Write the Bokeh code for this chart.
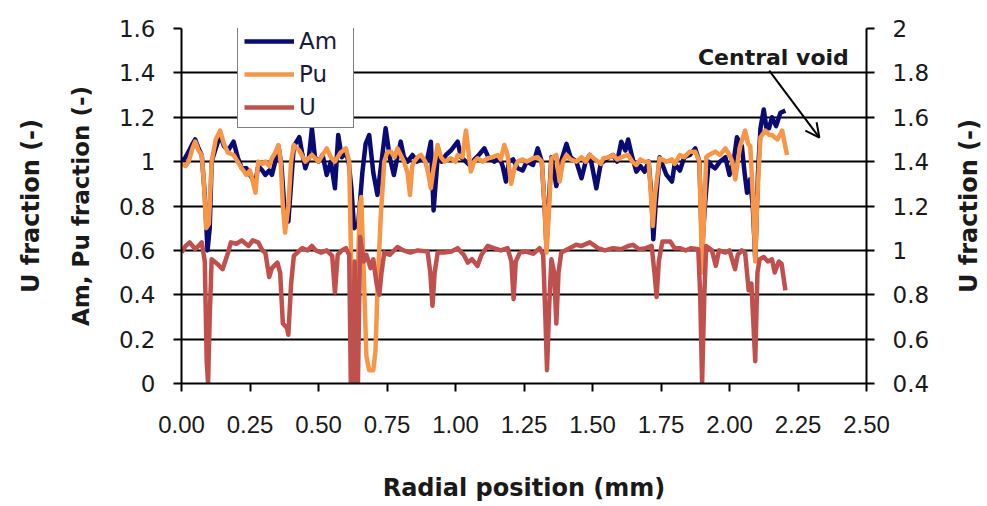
from bokeh.plotting import figure
from bokeh.layouts import row
from bokeh.models import (Range1d, LinearAxis, FixedTicker, NumeralTickFormatter,
                          Legend, LegendItem, Label, Arrow, OpenHead)
from bokeh.embed import file_html
from bokeh.resources import INLINE

# ---------------- data ----------------
am_x = [0.00, 0.015, 0.026, 0.04, 0.05, 0.062, 0.074, 0.085, 0.095, 0.103, 0.11, 0.125, 0.141, 0.155,
        0.17, 0.19, 0.205, 0.22, 0.237, 0.255, 0.27, 0.28, 0.295, 0.306, 0.32, 0.33, 0.342, 0.354,
        0.365, 0.375, 0.39, 0.40, 0.41, 0.43, 0.44, 0.452, 0.465, 0.476, 0.487, 0.50, 0.515, 0.53,
        0.545, 0.56, 0.572, 0.585, 0.60, 0.61, 0.62, 0.63, 0.645, 0.66, 0.672, 0.685, 0.70, 0.715,
        0.73, 0.745, 0.76, 0.775, 0.788, 0.80, 0.812, 0.825, 0.843, 0.86, 0.875, 0.895, 0.91, 0.92,
        0.935, 0.95, 0.965, 0.983, 1.008, 1.02, 1.038, 1.055, 1.069, 1.085, 1.105, 1.12, 1.142, 1.16,
        1.172, 1.184, 1.195, 1.21, 1.227, 1.245, 1.26, 1.283, 1.30, 1.315, 1.325, 1.332, 1.34, 1.35,
        1.368, 1.385, 1.405, 1.42, 1.441, 1.46, 1.475, 1.49, 1.50, 1.514, 1.53, 1.54, 1.56, 1.575,
        1.59, 1.605, 1.62, 1.63, 1.645, 1.66, 1.675, 1.69, 1.705, 1.715, 1.722, 1.73, 1.745, 1.77,
        1.79, 1.80, 1.819, 1.835, 1.855, 1.875, 1.89, 1.90, 1.91, 1.924, 1.936, 1.948, 1.965, 1.985,
        2.00, 2.015, 2.027, 2.045, 2.055, 2.064, 2.075, 2.085, 2.094, 2.104, 2.113, 2.125, 2.135,
        2.144, 2.155, 2.17, 2.186, 2.204]
am_y = [1.00, 1.02, 1.045, 1.08, 1.10, 1.06, 1.03, 0.85, 0.60, 0.70, 1.00, 1.06, 1.12, 1.07,
        1.05, 1.09, 1.02, 0.97, 0.97, 0.93, 0.91, 0.98, 0.96, 0.94, 0.96, 0.94, 1.00, 1.07,
        0.98, 0.80, 0.73, 0.90, 1.07, 1.11, 1.04, 0.97, 1.02, 1.15, 1.02, 1.00, 1.03, 0.94,
        1.00, 0.88, 1.12, 1.02, 1.04, 1.00, 0.88, 0.70, 0.72, 0.95, 1.08, 1.12, 0.95, 0.85,
        1.00, 1.15, 1.02, 0.94, 1.02, 1.09, 1.02, 1.00, 1.03, 1.00, 1.01, 1.00, 1.09, 0.78,
        1.02, 1.00, 1.03, 1.05, 1.09, 1.02, 1.00, 0.98, 1.01, 1.03, 1.06, 1.02, 1.00, 1.02,
        0.98, 0.91, 1.00, 1.01, 0.97, 0.96, 1.00, 0.985, 1.06, 1.00, 0.80, 0.62, 0.80, 1.02,
        0.89, 1.00, 1.08, 1.02, 1.00, 0.925, 1.00, 1.03, 0.97, 0.88, 0.99, 1.00, 1.02, 1.03,
        1.00, 1.09, 1.05, 1.10, 1.02, 0.955, 0.98, 0.955, 1.00, 0.85, 0.65, 0.80, 1.02, 0.94,
        0.91, 0.99, 0.96, 1.02, 1.03, 1.06, 1.00, 0.60, 0.80, 1.00, 0.98, 0.97, 1.00, 1.02,
        0.94, 1.00, 1.11, 1.07, 0.95, 0.86, 0.92, 0.80, 0.56, 0.95, 1.15, 1.235, 1.15,
        1.15, 1.20, 1.16, 1.22, 1.23]

pu_x = [0.00, 0.015, 0.026, 0.04, 0.05, 0.062, 0.074, 0.082, 0.09, 0.10, 0.11, 0.125, 0.141, 0.155,
        0.17, 0.19, 0.205, 0.22, 0.237, 0.25, 0.27, 0.28, 0.295, 0.306, 0.32, 0.33, 0.342, 0.354,
        0.362, 0.37, 0.378, 0.39, 0.40, 0.41, 0.43, 0.452, 0.476, 0.50, 0.53, 0.545, 0.56, 0.58,
        0.60, 0.612, 0.62, 0.628, 0.636, 0.642, 0.65, 0.656, 0.665, 0.675, 0.685, 0.70, 0.708,
        0.716, 0.727, 0.74, 0.752, 0.764, 0.778, 0.788, 0.80, 0.812, 0.825, 0.834, 0.842, 0.849,
        0.862, 0.874, 0.89, 0.90, 0.91, 0.92, 0.935, 0.947, 0.96, 0.983, 1.00, 1.008, 1.025, 1.038,
        1.047, 1.056, 1.068, 1.08, 1.10, 1.117, 1.135, 1.154, 1.165, 1.178, 1.19, 1.203, 1.215,
        1.227, 1.245, 1.26, 1.283, 1.30, 1.315, 1.325, 1.332, 1.34, 1.35, 1.368, 1.38, 1.392,
        1.405, 1.42, 1.441, 1.46, 1.475, 1.49, 1.51, 1.53, 1.54, 1.56, 1.575, 1.59, 1.605, 1.63,
        1.645, 1.66, 1.675, 1.69, 1.705, 1.713, 1.72, 1.728, 1.745, 1.77, 1.79, 1.80, 1.819, 1.835,
        1.855, 1.875, 1.89, 1.895, 1.90, 1.907, 1.915, 1.924, 1.948, 1.965, 1.985, 2.00, 2.01,
        2.021, 2.03, 2.04, 2.057, 2.068, 2.076, 2.085, 2.094, 2.102, 2.113, 2.131, 2.145, 2.155,
        2.175, 2.192, 2.21]
pu_y = [0.99, 0.98, 1.00, 1.06, 1.09, 1.05, 1.03, 0.90, 0.70, 0.72, 1.00, 1.10, 1.14, 1.08,
        1.04, 1.03, 1.00, 0.97, 0.94, 0.96, 0.86, 1.00, 0.99, 1.00, 0.98, 1.015, 1.04, 1.075,
        1.00, 0.80, 0.68, 0.80, 1.00, 1.075, 1.05, 1.00, 1.03, 1.00, 1.06, 1.02, 1.00, 1.04,
        1.06, 1.00, 0.50, 0.05, 0.02, 0.40, 0.80, 0.84, 0.50, 0.12, 0.06, 0.06, 0.15,
        0.45, 0.75, 1.00, 1.045, 1.045, 1.02, 1.06, 1.03, 1.00, 0.95, 0.85, 0.98, 1.00,
        1.02, 1.03, 1.00, 0.95, 0.88, 0.97, 1.075, 1.02, 1.00, 1.015, 1.00, 1.03, 1.02, 1.14,
        1.05, 0.955, 1.00, 1.015, 1.00, 1.015, 1.02, 1.03, 1.01, 1.075, 1.03, 0.90, 0.97,
        1.00, 1.01, 1.00, 1.015, 1.02, 1.00, 0.80, 0.59, 0.75, 1.015, 1.03, 0.91, 1.00,
        1.03, 1.01, 1.00, 1.02, 1.00, 1.03, 1.01, 0.99, 1.015, 1.02, 1.03, 1.01, 1.02, 1.03,
        1.00, 0.985, 1.01, 1.00, 1.00, 0.85, 0.71, 0.85, 1.015, 1.00, 1.01, 0.99, 1.03, 1.02,
        1.045, 1.045, 1.00, 0.75, 0.50, 0.75, 1.02, 1.03, 1.045, 1.03, 1.06, 1.03, 1.00,
        0.92, 1.00, 1.075, 1.14, 1.08, 1.07, 0.85, 0.55, 0.85, 1.11, 1.14, 1.12, 1.12,
        1.10, 1.14, 1.03]

u_x = [0.00, 0.015, 0.03, 0.05, 0.062, 0.074, 0.085, 0.092, 0.097, 0.103, 0.11, 0.13, 0.15, 0.17,
       0.18, 0.20, 0.22, 0.245, 0.26, 0.28, 0.295, 0.306, 0.32, 0.33, 0.35, 0.36, 0.37, 0.385,
       0.39, 0.40, 0.41, 0.44, 0.46, 0.476, 0.49, 0.51, 0.53, 0.55, 0.56, 0.57, 0.585, 0.60,
       0.612, 0.618, 0.624, 0.632, 0.638, 0.644, 0.652, 0.665, 0.675, 0.69, 0.70, 0.712, 0.722,
       0.73, 0.74, 0.76, 0.788, 0.81, 0.835, 0.862, 0.898, 0.908, 0.916, 0.924, 0.935, 0.96,
       0.985, 1.008, 1.03, 1.045, 1.06, 1.08, 1.095, 1.117, 1.14, 1.165, 1.19, 1.204, 1.212,
       1.22, 1.235, 1.257, 1.283, 1.307, 1.32, 1.328, 1.334, 1.342, 1.35, 1.36, 1.368, 1.376,
       1.386, 1.416, 1.44, 1.46, 1.49, 1.52, 1.545, 1.575, 1.605, 1.63, 1.648, 1.67, 1.695,
       1.716, 1.726, 1.734, 1.742, 1.755, 1.784, 1.80, 1.819, 1.84, 1.86, 1.886, 1.893, 1.90,
       1.908, 1.915, 1.936, 1.95, 1.962, 1.985, 2.00, 2.02, 2.03, 2.045, 2.057, 2.07, 2.08,
       2.094, 2.102, 2.11, 2.125, 2.14, 2.155, 2.165, 2.18, 2.19, 2.204]
u_y = [0.99, 1.02, 1.036, 1.006, 1.02, 1.036, 0.95, 0.50, 0.40, 0.70, 0.96, 0.94, 0.915, 0.99,
       1.036, 1.03, 1.045, 1.02, 1.045, 1.036, 1.00, 0.99, 0.88, 0.92, 0.945, 0.90, 0.67, 0.65,
       0.62, 0.85, 0.975, 1.01, 1.00, 1.02, 1.00, 0.99, 1.00, 0.975, 0.81, 0.98, 1.00, 1.01,
       0.98, 0.40, 0.40, 0.95, 0.40, 0.40, 1.06, 0.95, 0.98, 0.92, 0.96, 0.85, 0.80,
       0.90, 0.99, 0.98, 1.015, 1.00, 0.99, 1.00, 0.995, 0.90, 0.75, 0.90, 0.99, 0.99,
       0.995, 1.01, 0.98, 0.945, 0.96, 0.93, 0.98, 1.02, 1.01, 1.00, 1.01, 0.95, 0.78,
       0.95, 0.99, 0.995, 0.985, 1.01, 0.98, 0.70, 0.46, 0.75, 0.96, 0.90, 0.67, 0.90,
       0.99, 1.01, 1.025, 1.02, 1.036, 1.01, 1.00, 1.01, 1.005, 1.02, 1.025, 1.005, 1.01,
       1.02, 0.90, 0.79, 0.95, 1.04, 1.04, 1.01, 1.01, 1.00, 1.01, 1.005, 0.80, 0.40,
       0.80, 1.02, 1.00, 0.93, 1.00, 0.99, 1.00, 0.915, 0.98, 1.00, 0.99, 0.82, 0.85,
       0.50, 0.90, 0.96, 0.97, 0.95, 0.96, 0.90, 0.95, 0.94, 0.82]

x_ticks = [0.0, 0.25, 0.5, 0.75, 1.0, 1.25, 1.5, 1.75, 2.0, 2.25, 2.5]
left_ticks = [0.0, 0.2, 0.4, 0.6, 0.8, 1.0, 1.2, 1.4, 1.6]
right_ticks = [0.4, 0.6, 0.8, 1.0, 1.2, 1.4, 1.6, 1.8, 2.0]

TICK_FONT = "DejaVu Sans"
TITLE_FONT = "DejaVu Sans"

# ---------------- main figure ----------------
p = figure(width=950, height=506, output_backend="svg", toolbar_location=None,
           x_range=Range1d(0, 2.5), y_range=Range1d(0, 1.6),
           min_border_left=181, min_border_right=84, min_border_top=28, min_border_bottom=123)
p.extra_y_ranges = {"u": Range1d(0.4, 2.0)}
p.outline_line_color = None
p.background_fill_color = "white"

# x axis
xa = p.xaxis[0]
xa.ticker = FixedTicker(ticks=x_ticks)
xa.formatter = NumeralTickFormatter(format="0.00")
xa.axis_label = "Radial position (mm)"
xa.major_label_text_font = "Liberation Sans"
xa.major_label_text_font_size = "24px"
xa.major_label_standoff = 24
xa.axis_label_standoff = 38

# left axis
ya = p.yaxis[0]
ya.ticker = FixedTicker(ticks=left_ticks)
ya.formatter = NumeralTickFormatter(format="0.[0]")
ya.axis_label = "Am, Pu fraction (-)"
ya.major_label_text_font = TICK_FONT
ya.major_label_text_font_size = "23px"
ya.major_label_standoff = 18
ya.axis_label_standoff = 22

# right axis (its title is drawn in the slim panel at the right so it reads bottom-to-top)
ra = LinearAxis(y_range_name="u", ticker=FixedTicker(ticks=right_ticks),
                formatter=NumeralTickFormatter(format="0.[0]"))
ra.major_label_text_font = TICK_FONT
ra.major_label_text_font_size = "23px"
ra.major_label_standoff = 18
p.add_layout(ra, "right")

# outer left axis carrying only the "U fraction (-)" title
ua = LinearAxis(y_range_name="u", ticker=FixedTicker(ticks=[]), axis_label="U fraction (-)")
ua.axis_line_color = None
ua.major_tick_out = 0
ua.minor_tick_out = 0
ua.major_tick_line_color = None
ua.minor_tick_line_color = None
ua.axis_label_standoff = 20
p.add_layout(ua, "left")

for ax in [xa, ya, ua]:
    ax.axis_label_text_font = TITLE_FONT
    ax.axis_label_text_font_style = "bold"
    ax.axis_label_text_font_size = "24px"
    ax.axis_label_text_color = "#1a1a1a"
ya.axis_label_text_font_size = "23px"
for ax in [xa, ya, ra]:
    ax.major_label_text_color = "#1a1a1a"
    ax.axis_line_color = "black"
    ax.axis_line_width = 2
    ax.major_tick_line_color = "black"
    ax.major_tick_line_width = 2
    ax.major_tick_in = 0
    ax.major_tick_out = 8
    ax.minor_tick_line_color = None

p.xgrid.visible = False
p.ygrid.ticker = FixedTicker(ticks=left_ticks)
p.ygrid.grid_line_color = "black"
p.ygrid.grid_line_width = 2
p.ygrid.grid_line_alpha = 1

# series
r_am = p.line(am_x, am_y, line_color="#0a0a75", line_width=4.5, line_join="round")
r_pu = p.line(pu_x, pu_y, line_color="#f79646", line_width=4.5, line_join="round")
r_u = p.line(u_x, u_y, y_range_name="u", line_color="#c0504d", line_width=4.5, line_join="round")

legend = Legend(items=[LegendItem(label="Am", renderers=[r_am]),
                       LegendItem(label="Pu", renderers=[r_pu]),
                       LegendItem(label="U", renderers=[r_u])],
                location=(56, 255))
legend.border_line_color = "black"
legend.border_line_width = 1.5
legend.background_fill_alpha = 1.0
legend.label_text_font = "DejaVu Sans"
legend.label_text_font_size = "23px"
legend.label_text_color = "#1a1a40"
legend.glyph_width = 50
legend.glyph_height = 28
legend.label_height = 28
legend.label_width = 48
legend.label_standoff = 5
legend.spacing = 5
legend.padding = 6
legend.margin = 0
p.add_layout(legend)

# annotation
p.add_layout(Label(x=2.16, y=1.468, text="Central void", text_align="center",
                   text_baseline="middle", text_font=TITLE_FONT, text_font_style="bold",
                   text_font_size="22px", text_color="#1a1a1a"))
p.add_layout(Arrow(end=OpenHead(size=14, line_width=2, line_color="black"),
                   x_start=2.145, y_start=1.41, x_end=2.328, y_end=1.108,
                   line_width=2, line_color="black"))

# ---------------- slim panel holding the right-hand title ----------------
p2 = figure(width=37, height=506, output_backend="svg", toolbar_location=None,
            x_range=Range1d(0, 1), y_range=Range1d(0.4, 2.0),
            min_border_left=36, min_border_right=0, min_border_top=28, min_border_bottom=123)
p2.outline_line_color = None
p2.xaxis.visible = False
p2.grid.visible = False
ta = p2.yaxis[0]
ta.ticker = FixedTicker(ticks=[])
ta.axis_line_color = None
ta.major_tick_out = 0
ta.minor_tick_out = 0
ta.major_tick_line_color = None
ta.minor_tick_line_color = None
ta.axis_label = "U fraction (-)"
ta.axis_label_text_font = TITLE_FONT
ta.axis_label_text_font_style = "bold"
ta.axis_label_text_font_size = "24px"
ta.axis_label_text_color = "#1a1a1a"
ta.axis_label_standoff = 4

layout = row(p, p2, spacing=0)
open("out.html", "w").write(file_html(layout, INLINE))
